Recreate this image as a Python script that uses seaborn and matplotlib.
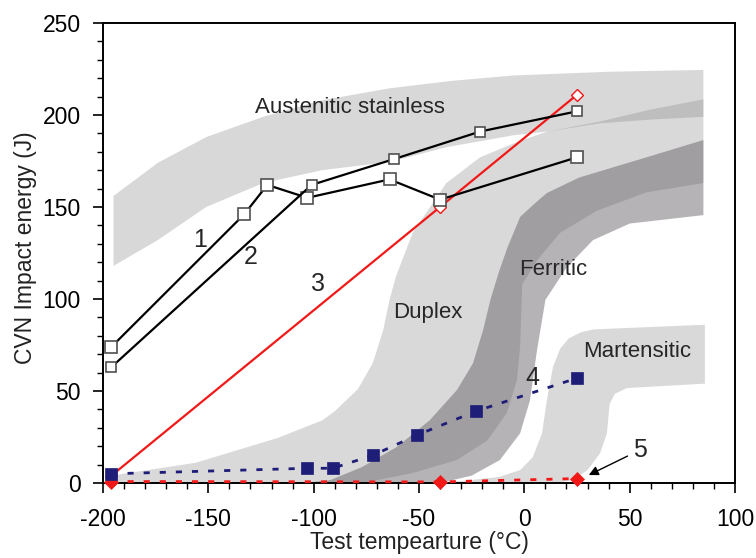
import numpy as np
import pandas as pd
import matplotlib
matplotlib.use("Agg")
import matplotlib.pyplot as plt
from matplotlib.ticker import MultipleLocator
import seaborn as sns

# ---------------- data ----------------
# curve 1 (black, open squares)
c1_temp = [-196, -133, -122, -103, -64, -40, 25]
c1_cvn = [74, 146, 162, 155, 165, 154, 177]
# curve 2 (black, small open squares)
c2_temp = [-196, -101, -62, -21, 25]
c2_cvn = [63, 162, 176, 191, 202]
# curve 3 (red, open diamonds)
c3_temp = [-196, -40, 25]
c3_cvn = [4, 150, 211]
# curve 4 (navy dashed, filled squares)
c4_temp = [-196, -103, -91, -72, -51, -23, 25]
c4_cvn = [5, 8, 8, 15, 26, 39, 57]
# curve 5 (red dashed, filled diamonds)
c5_temp = [-196, -40, 25]
c5_cvn = [0.8, 0.6, 2.4]

# scatter bands (outline vertices)
aus_x = [-195, -174, -151, -124, -96, -64, -35, -5, 40, 85,
         85, 60, 36, 11, -5, -37, -64, -96, -124, -151, -174, -195]
aus_y = [156, 174, 188, 199, 208, 214.5, 218.5, 221.5, 223.5, 224.5,
         199, 197.5, 195.5, 191, 189, 182.5, 174.5, 170, 163, 150, 132, 118]

dup_x = [-196, -196, -156, -117, -96, -90, -79, -72, -67, -64, -61, -53, -37, -21, -2,
         11, 36, 60, 85, 85, 58, 34.5, 17, 6, -1, -2, -3.5, -8.3, -17.7, -32, -53, -77]
dup_y = [0, 4, 11, 24.5, 34, 39, 51, 65, 83, 99.5, 112, 136, 163, 177, 186,
         191, 196.5, 203, 208.5, 163, 158, 148, 136, 121, 108, 74, 56, 38, 23, 12.5, 5.4, 0]

fer_x = [-105, -92, -77, -60.5, -45, -32, -24.4, -19.6, -16, -12, -8, -2, 5, 10.7, 26, 58, 85,
         85, 50, 32.6, 20, 10, 6, 2.7, -2, -11.6, -25, -40]
fer_y = [0, 1.6, 8.7, 19.6, 34, 50.5, 65, 83, 100, 115, 128, 144.6, 152, 157.6, 166, 177, 186.4,
         145.6, 141, 132, 117, 99.5, 72, 45, 27, 12.5, 4, 0]

mar_x = [-45, -30, -12, -2, 4, 8.4, 10.7, 13.6, 17, 21, 27, 33, 85.7,
         85.7, 48.7, 43, 40.5, 39.2, 36, 30, 23, 15]
mar_y = [0, 1, 3.3, 7, 14, 27, 45, 63, 73, 78.5, 82, 83.5, 86,
         54, 51.6, 48.5, 43, 27, 16.3, 7, 1.6, 0]

x_ticks = [-200, -150, -100, -50, 0, 50, 100]
y_ticks = [0, 50, 100, 150, 200, 250]

# ---------------- style ----------------
sns.set_theme(style="ticks")
plt.rcParams['font.family'] = ['Liberation Sans', 'DejaVu Sans']
plt.rcParams['axes.unicode_minus'] = False

fig = plt.figure(figsize=(7.56, 5.58), dpi=100)
ax = fig.add_axes([103/756, 1 - 483/558, 632/756, 460/558])
ax.set_facecolor('white')

# bands
ax.fill(dup_x, dup_y, color='#D9D9D9', lw=0, zorder=1)
ax.fill(aus_x, aus_y, color=(135/255, 135/255, 135/255), alpha=0.316, lw=0, zorder=1.2)
ax.fill(fer_x, fer_y, color=(92/255, 86/255, 94/255), alpha=0.447, lw=0, zorder=1.3)
ax.fill(mar_x, mar_y, color='#D9D9D9', lw=0, zorder=1.4)

navy = '#1E1E78'
red = '#F21818'

sns.lineplot(x=c3_temp, y=c3_cvn, ax=ax, sort=False, color=red, lw=1.6,
             marker='D', markersize=6.5, markerfacecolor='white', markeredgecolor=red,
             markeredgewidth=1.0, zorder=3, clip_on=False)
sns.lineplot(x=c1_temp, y=c1_cvn, ax=ax, sort=False, color='black', lw=1.6,
             marker='s', markersize=8.5, markerfacecolor='white', markeredgecolor='#505050',
             markeredgewidth=1.2, zorder=4)
sns.lineplot(x=c2_temp, y=c2_cvn, ax=ax, sort=False, color='black', lw=1.6,
             marker='s', markersize=6.5, markerfacecolor='white', markeredgecolor='#505050',
             markeredgewidth=1.2, zorder=4)
sns.lineplot(x=c5_temp, y=c5_cvn, ax=ax, sort=False, color=red, lw=2.0,
             linestyle=(0, (2.2, 3.6)), marker='D', markersize=7, markerfacecolor=red,
             markeredgecolor=red, markeredgewidth=0.5, zorder=5, clip_on=False)
sns.lineplot(x=c4_temp, y=c4_cvn, ax=ax, sort=False, color=navy, lw=2.0,
             linestyle=(0, (2.2, 3.6)), marker='s', markersize=8, markerfacecolor=navy,
             markeredgecolor=navy, markeredgewidth=0.5, zorder=6, clip_on=False)

# labels in the plot
fs = 16
ax.text(-128, 204, 'Austenitic stainless', fontsize=fs, ha='left', va='center', zorder=7)
ax.text(-45.8, 92.4, 'Duplex', fontsize=fs, ha='center', va='center', zorder=7)
ax.text(13.6, 115.8, 'Ferritic', fontsize=fs, ha='center', va='center', zorder=7)
ax.text(53.5, 71.2, 'Martensitic', fontsize=fs, ha='center', va='center', zorder=7)
nfs = 18
ax.text(-154, 132, '1', fontsize=nfs, ha='center', va='center', zorder=7)
ax.text(-130, 123, '2', fontsize=nfs, ha='center', va='center', zorder=7)
ax.text(-98, 108, '3', fontsize=nfs, ha='center', va='center', zorder=7)
ax.text(3.6, 57, '4', fontsize=nfs, ha='center', va='center', zorder=7)
ax.annotate('5', xy=(30, 4), xytext=(55, 18), fontsize=nfs, ha='center', va='center',
            arrowprops=dict(arrowstyle='-|>', color='black', lw=1.0, shrinkA=2, shrinkB=1,
                            mutation_scale=14),
            zorder=7)

# axes
ax.set_xlim(-200, 100)
ax.set_ylim(0, 250)
ax.set_xticks(x_ticks)
ax.set_yticks(y_ticks)
ax.set_xticklabels([str(v) for v in x_ticks])
ax.set_yticklabels([str(v) for v in y_ticks])
ax.xaxis.set_minor_locator(MultipleLocator(10))
ax.yaxis.set_minor_locator(MultipleLocator(10))
ax.tick_params(which='major', direction='out', length=7, width=1.2, labelsize=16.5,
               colors='black', pad=9)
ax.tick_params(which='minor', direction='out', length=4.5, width=1.0, colors='black')
ax.tick_params(axis='x', which='major', pad=11)
for s in ax.spines.values():
    s.set_color('black')
    s.set_linewidth(1.4)
    s.set_visible(True)

ax.set_xlabel('Test tempearture (°C)', fontsize=16.5, color='#222222', labelpad=0)
ax.set_ylabel('CVN Impact energy (J)', fontsize=16.5, color='#222222')
ax.yaxis.set_label_coords(-0.104, 0.511)

fig.savefig('out.png', dpi=100)
